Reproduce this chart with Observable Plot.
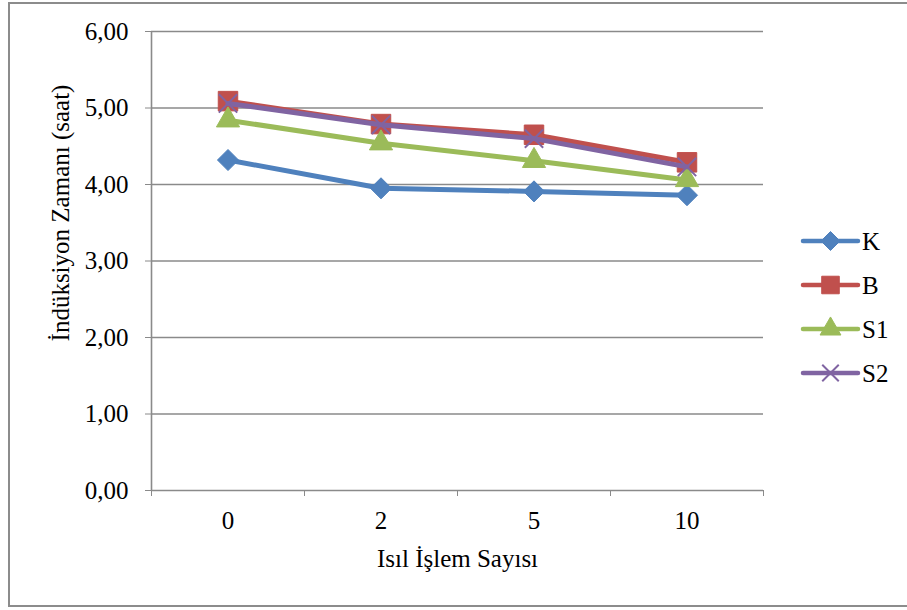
<!DOCTYPE html>
<html>
<head>
<meta charset="utf-8">
<script src="https://cdn.jsdelivr.net/npm/d3@7"></script>
<script src="https://cdn.jsdelivr.net/npm/@observablehq/plot@0.6"></script>
<style>
  html, body { margin: 0; padding: 0; background: #fff; overflow: hidden; }
  #wrap { position: relative; width: 907px; height: 610px; }
  #border { position: absolute; left: 8px; top: 2px; width: 910px; height: 605px; border: 2px solid #8c8c8c; box-sizing: border-box; pointer-events: none; }
  #legend { position: absolute; left: 0; top: 0; pointer-events: none; }
  svg text { font-family: "Liberation Serif", "Times New Roman", Times, serif; }
</style>
</head>
<body>
<div id="wrap"><div id="border"></div></div>
<script>
// Induction time (hours) by number of heat treatments
const categories = ["0", "2", "5", "10"];
const K  = [4.32, 3.95, 3.91, 3.86];
const B  = [5.09, 4.79, 4.65, 4.29];
const S1 = [4.84, 4.54, 4.31, 4.06];
const S2 = [5.06, 4.78, 4.60, 4.23];
const seriesNames = ["K", "B", "S1", "S2"];
const seriesValues = [K, B, S1, S2];
const colors = ["#4F81BD", "#C0504D", "#9BBB59", "#8064A2"];
const symbols = ["diamond2", "square", "triangle", "times"];
const yTicks = [0, 1, 2, 3, 4, 5, 6];
const xTitle = "Isıl İşlem Sayısı";
const yTitle = "İndüksiyon Zamanı (saat)";

const rows = seriesNames.flatMap((s, si) =>
  categories.map((c, i) => ({series: s, i, value: seriesValues[si][i]}))
);
const edges = d3.range(categories.length + 1).map(k => k - 0.5);
const fmt = v => v.toFixed(2).replace(".", ",");
const font = "'Liberation Serif', 'Times New Roman', Times, serif";
const fs = 25;
const grey = "#8a8a8a";
const symbolSize = {diamond2: 9.5, square: 11, triangle: 8.6, times: 8.4};

const marks = [
  Plot.ruleY(yTicks.filter(v => v > 0), {y: d => d, stroke: grey, strokeWidth: 1.6}),
  Plot.ruleX([-0.5], {stroke: grey, strokeWidth: 1.6}),
  Plot.ruleY([0], {stroke: grey, strokeWidth: 1.6}),
  Plot.axisY({ticks: yTicks, tickSize: 6, tickPadding: 17, tickFormat: fmt, stroke: grey, fill: "black",
    fontSize: fs, label: null}),
  Plot.axisX({ticks: edges, tickSize: 6, tickFormat: () => "", stroke: grey, label: null}),
  Plot.axisX({ticks: d3.range(categories.length), tickSize: 0, tickPadding: 21,
    tickFormat: i => categories[i], fill: "black", fontSize: fs, label: null})
];

seriesNames.forEach((s, si) => {
  const data = rows.filter(r => r.series === s);
  marks.push(Plot.line(data, {x: "i", y: "value", stroke: colors[si], strokeWidth: 5, strokeLinejoin: "round"}));
  const sym = symbols[si];
  if (sym === "times") {
    marks.push(Plot.dot(data, {x: "i", y: "value", symbol: sym, r: symbolSize[sym], stroke: colors[si], strokeWidth: 2, fill: "none"}));
  } else {
    marks.push(Plot.dot(data, {x: "i", y: "value", symbol: sym, r: symbolSize[sym], fill: colors[si], stroke: colors[si], strokeWidth: 1}));
  }
});

marks.push(Plot.text([xTitle], {frameAnchor: "bottom", dy: 76, text: d => d, fontSize: fs, fill: "black"}));
marks.push(Plot.text([yTitle], {frameAnchor: "left", textAnchor: "middle", dx: -91, dy: -48, rotate: -90,
  text: d => d, fontSize: fs, fill: "black"}));

const chart = Plot.plot({
  width: 907,
  height: 610,
  marginLeft: 151,
  marginRight: 144,
  marginTop: 31,
  marginBottom: 120,
  style: {fontFamily: font, fontSize: fs + "px", background: "transparent", overflow: "visible"},
  x: {type: "linear", domain: [-0.5, categories.length - 0.5], label: null},
  y: {domain: [0, 6], label: null},
  marks
});
const wrap = document.getElementById("wrap");
wrap.insertBefore(chart, wrap.firstChild);

// Legend: line + marker + label per series, in the right margin
const legendX = 803, lineLen = 55, rowY = [241, 285, 329, 373];
const lg = d3.select(wrap).append("svg").attr("id", "legend").attr("width", 907).attr("height", 610);
const d3sym = {diamond2: d3.symbolDiamond2, square: d3.symbolSquare, triangle: d3.symbolTriangle, times: d3.symbolTimes};
seriesNames.forEach((s, si) => {
  const g = lg.append("g").attr("transform", `translate(0,${rowY[si]})`);
  g.append("line").attr("x1", legendX).attr("x2", legendX + lineLen).attr("y1", 0).attr("y2", 0)
    .attr("stroke", colors[si]).attr("stroke-width", 4.5).attr("stroke-linecap", "round");
  const sym = symbols[si];
  const r = symbolSize[sym] * 0.9;
  const path = d3.symbol(d3sym[sym], Math.PI * r * r)();
  const p = g.append("path").attr("d", path).attr("transform", `translate(${legendX + lineLen / 2},0)`);
  if (sym === "times") p.attr("fill", "none").attr("stroke", colors[si]).attr("stroke-width", 2);
  else p.attr("fill", colors[si]).attr("stroke", colors[si]).attr("stroke-width", 1);
  g.append("text").attr("x", legendX + lineLen + 4).attr("y", 0).attr("dy", "0.35em")
    .attr("font-size", fs).attr("fill", "black").text(s);
});
</script>
</body>
</html>
